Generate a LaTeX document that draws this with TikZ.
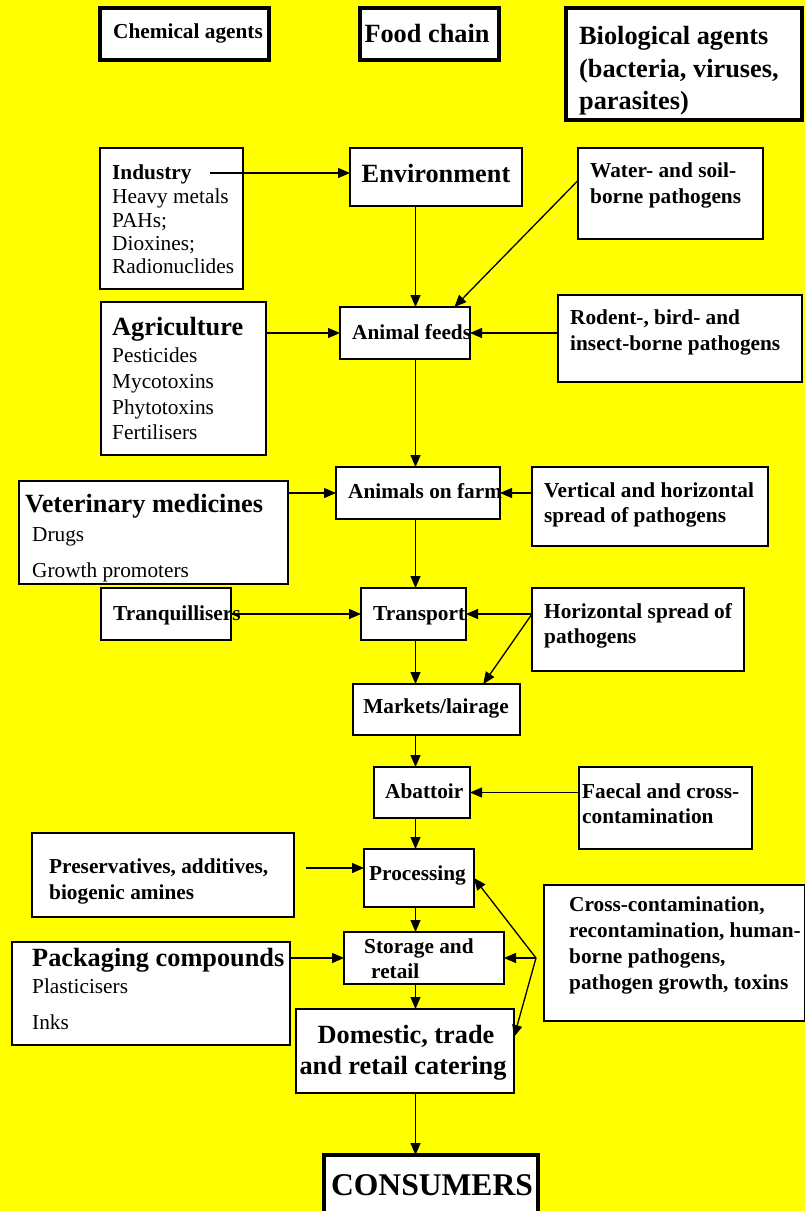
\documentclass[tikz,border=0pt]{standalone}
\usepackage{fontspec}
\setmainfont{Liberation Serif}
\usetikzlibrary{arrows.meta,calc}
\definecolor{bgyellow}{RGB}{255,255,0}
\newcommand\mybox[6]{\node[#6,minimum width={(#4)-(#2)},minimum height={(#5)-(#3)}] (#1) at ({((#2)+(#4))/2},{((#3)+(#5))/2}) {};}
\begin{document}
\begin{tikzpicture}[x=1pt,y=-1pt,
 box/.style={draw=black,fill=white,line width=1.2pt,inner sep=0pt,outer sep=0pt},
 hbox/.style={box,line width=3.5pt},
 txt/.style={inner sep=0pt,anchor=west,text height=16pt,text depth=3.2pt,font=\fontsize{21.3}{25}\selectfont\bfseries},
 rtxt/.style={txt,font=\fontsize{21.3}{25}\selectfont},
 btxt/.style={txt,text height=19.7pt,text depth=3.9pt,font=\fontsize{26.3}{30}\selectfont\bfseries},
 ctxt/.style={txt,text height=23.7pt,text depth=4.7pt,font=\fontsize{31.6}{36}\selectfont\bfseries},
 arr/.style={line width=1.3pt,-{Triangle[length=12pt,width=10pt]}},
]
\clip (0,0) rectangle (805,1211);
\fill[bgyellow] (0,0) rectangle (805,1211);
% boxes
\mybox{chem}{100}{8}{269}{60}{hbox}
\mybox{food}{360}{8}{499}{60}{hbox}
\mybox{bio}{566}{8}{802}{120}{hbox}
\mybox{ind}{100}{148}{243}{289}{box}
\mybox{env}{350}{148}{522}{206}{box}
\mybox{water}{578}{148}{763}{239}{box}
\mybox{agri}{101}{302}{266}{455}{box}
\mybox{feeds}{340}{307}{470}{359}{box}
\mybox{rodent}{558}{295}{802}{382}{box}
\mybox{farm}{336}{467}{500}{519}{box}
\mybox{vet}{19}{481}{288}{584}{box}
\mybox{vert}{532}{467}{768}{546}{box}
\mybox{tranq}{101}{588}{231}{640}{box}
\mybox{transport}{361}{588}{466}{640}{box}
\mybox{hspread}{532}{588}{744}{671}{box}
\mybox{markets}{353}{684}{520}{735}{box}
\mybox{abattoir}{374}{767}{470}{818}{box}
\mybox{faecal}{579}{767}{752}{849}{box}
\mybox{proc}{364}{849}{474}{907}{box}
\mybox{pres}{32}{833}{294}{917}{box}
\mybox{cross}{544}{885}{804.3}{1021}{box}
\mybox{storage}{344}{932}{504}{984}{box}
\mybox{pack}{12}{942}{290}{1045}{box}
\mybox{dom}{296}{1009}{514}{1093}{box}
\mybox{cons}{324}{1155}{538}{1230}{hbox}
% texts
\node[txt,anchor=center] (chemT) at (188,32) {Chemical agents};
\node[btxt,anchor=center] (foodT) at (427,35) {Food chain};
\node[btxt] (bioT1) at (579,37) {Biological agents};
\node[btxt] (bioT2) at (579,70) {(bacteria, viruses,};
\node[btxt] (bioT3) at (579,102) {parasites)};
\node[txt] (indT1) at (112,173) {Industry};
\node[rtxt] (indT2) at (112,197) {Heavy metals};
\node[rtxt] (indT3) at (112,221) {PAHs;};
\node[rtxt] (indT4) at (112,244) {Dioxines;};
\node[rtxt] (indT5) at (112,267) {Radionuclides};
\node[btxt,anchor=center] (envT) at (436,175) {Environment};
\node[txt] (waterT1) at (590,171) {Water- and soil-};
\node[txt] (waterT2) at (590,197) {borne pathogens};
\node[btxt] (agriT1) at (112,328) {Agriculture};
\node[rtxt] (agriT2) at (112,356) {Pesticides};
\node[rtxt] (agriT3) at (112,382) {Mycotoxins};
\node[rtxt] (agriT4) at (112,408) {Phytotoxins};
\node[rtxt] (agriT5) at (112,433) {Fertilisers};
\node[txt] (feedsT) at (352,333) {Animal feeds};
\node[txt] (rodentT1) at (570,318) {Rodent-, bird- and};
\node[txt] (rodentT2) at (570,344) {insect-borne pathogens};
\node[txt] (farmT) at (348,492) {Animals on farm};
\node[btxt] (vetT1) at (25,505) {Veterinary medicines};
\node[rtxt] (vetT2) at (32,535) {Drugs};
\node[rtxt] (vetT3) at (32,571) {Growth promoters};
\node[txt] (vertT1) at (544,491) {Vertical and horizontal};
\node[txt] (vertT2) at (544,516) {spread of pathogens};
\node[txt] (tranqT) at (113,614) {Tranquillisers};
\node[txt] (transportT) at (373,614) {Transport};
\node[txt] (hspreadT1) at (544,612) {Horizontal spread of};
\node[txt] (hspreadT2) at (544,637) {pathogens};
\node[txt,anchor=center] (marketsT) at (436,707) {Markets/lairage};
\node[txt] (abattoirT) at (385,792) {Abattoir};
\node[txt] (faecalT1) at (582,792) {Faecal and cross-};
\node[txt] (faecalT2) at (582,817) {contamination};
\node[txt] (procT) at (369,874) {Processing};
\node[txt] (presT1) at (49,867) {Preservatives, additives,};
\node[txt] (presT2) at (49,893) {biogenic amines};
\node[txt] (crossT1) at (569,905) {Cross-contamination,};
\node[txt] (crossT2) at (569,931) {recontamination, human-};
\node[txt] (crossT3) at (569,957) {borne pathogens,};
\node[txt] (crossT4) at (569,983) {pathogen growth, toxins};
\node[txt] (storageT1) at (364,947) {Storage and};
\node[txt] (storageT2) at (371,972) {retail};
\node[btxt] (packT1) at (32,959) {Packaging compounds};
\node[rtxt] (packT2) at (32,987) {Plasticisers};
\node[rtxt] (packT3) at (32,1023) {Inks};
\node[btxt,anchor=center] (domT1) at (406,1036) {Domestic, trade};
\node[btxt,anchor=center] (domT2) at (403,1067) {and retail catering};
\node[ctxt,anchor=center] (consT) at (432,1186) {CONSUMERS};
% connectors
\coordinate (sp) at (415.5,0);
\coordinate (indA) at (210,173);
\draw[arr] (indA) -- (indA -| env.west);
\draw[arr] (env.south -| sp) -- (feeds.north -| sp);
\draw[arr] ([yshift=13pt]water.west) -- ($(feeds.north west)!0.88!(feeds.north east)$);
\draw[arr] (agri.east |- feeds.west) -- (feeds.west);
\draw[arr] (rodent.west |- feeds.east) -- (feeds.east);
\draw[arr] (feeds.south -| sp) -- (farm.north -| sp);
\draw[arr] (vet.east |- farm.west) -- (farm.west);
\draw[arr] (vert.west |- farm.east) -- (farm.east);
\draw[arr] (farm.south -| sp) -- (transport.north -| sp);
\draw[arr] (tranq.east) -- (transport.west);
\coordinate (hs) at (hspread.west |- transport.east);
\draw[arr] (hs) -- (transport.east);
\draw[arr] (hs) -- ($(markets.north west)!0.78!(markets.north east)$);
\draw[arr] (transport.south -| sp) -- (markets.north -| sp);
\draw[arr] (markets.south -| sp) -- (abattoir.north -| sp);
\draw[arr] (faecal.west |- abattoir.east) -- (abattoir.east);
\draw[arr] (abattoir.south -| sp) -- (proc.north -| sp);
\coordinate (pA) at (306,868);
\draw[arr] (pA) -- (pA -| proc.west);
\draw[arr] (proc.south -| sp) -- (storage.north -| sp);
\draw[arr] (pack.east |- storage.west) -- (storage.west);
\coordinate (cf) at (536,958);
\draw[arr] (cf) -- (storage.east);
\draw[arr] (cf) -- (proc.east);
\draw[arr] (cf) -- ([yshift=14pt]dom.east);
\draw[arr] (storage.south -| sp) -- (dom.north -| sp);
\draw[arr] (dom.south -| sp) -- (cons.north -| sp);
\end{tikzpicture}
\end{document}
